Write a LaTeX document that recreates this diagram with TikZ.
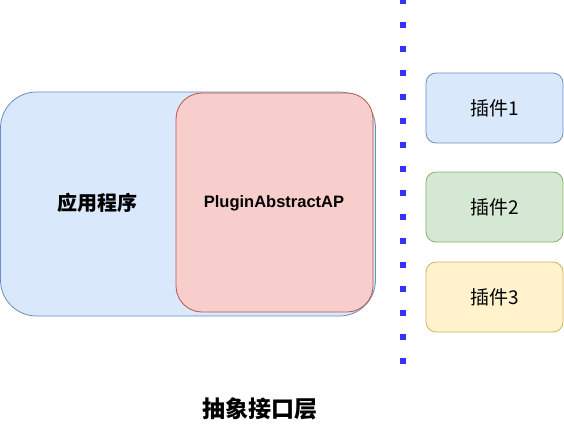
\documentclass[tikz,border=0pt]{standalone}
\usepackage{fontspec}
\setmainfont{Liberation Sans}
\newfontfamily\cjk{Noto Sans CJK SC}
\definecolor{bluefill}{HTML}{DAE8FC}
\definecolor{bluestroke}{HTML}{6C8EBF}
\definecolor{redfill}{HTML}{F8CECC}
\definecolor{redstroke}{HTML}{B85450}
\definecolor{greenfill}{HTML}{D5E8D4}
\definecolor{greenstroke}{HTML}{82B366}
\definecolor{yellowfill}{HTML}{FFF2CC}
\definecolor{yellowstroke}{HTML}{D6B656}
\definecolor{dotblue}{HTML}{3333FF}
\begin{document}
\begin{tikzpicture}[x=1pt,y=-1pt,
  box/.style={draw, line width=0.8pt, rectangle, inner sep=0pt},
  plugin/.style={box, rounded corners=10pt, minimum width=137pt, minimum height=70pt, font=\cjk\fontsize{19}{22}\selectfont},
  divider/.style={dotblue, line width=6pt, dash pattern=on 6pt off 18pt}]
\useasboundingbox (0,0) rectangle (564,425);
\node[box, fill=bluefill, draw=bluestroke, rounded corners=36pt, minimum width=375pt, minimum height=224pt] (app) at (188,204) {};
\node[box, fill=redfill, draw=redstroke, rounded corners=26pt, minimum width=197pt, minimum height=219pt] (api) at (274.5,202.5) {};
\node[font=\cjk\bfseries\fontsize{20}{24}\selectfont] (applabel) at (97,203) {应用程序};
\node[font=\bfseries\fontsize{16.5}{20}\selectfont] (apilabel) at (274,203) {PluginAbstractAP};
\coordinate (dtop) at (403,-2);
\coordinate (dbot) at (403,364);
\draw[divider] (dtop) -- (dbot);
\node[plugin, fill=bluefill, draw=bluestroke] (p1) at (494.5,108) {插件1};
\node[plugin, fill=greenfill, draw=greenstroke] (p2) at (494.5,207) {插件2};
\node[plugin, fill=yellowfill, draw=yellowstroke] (p3) at (494.5,297) {插件3};
\node[font=\cjk\bfseries\fontsize{23}{27}\selectfont] (layer) at (260,409) {抽象接口层};
\end{tikzpicture}
\end{document}
